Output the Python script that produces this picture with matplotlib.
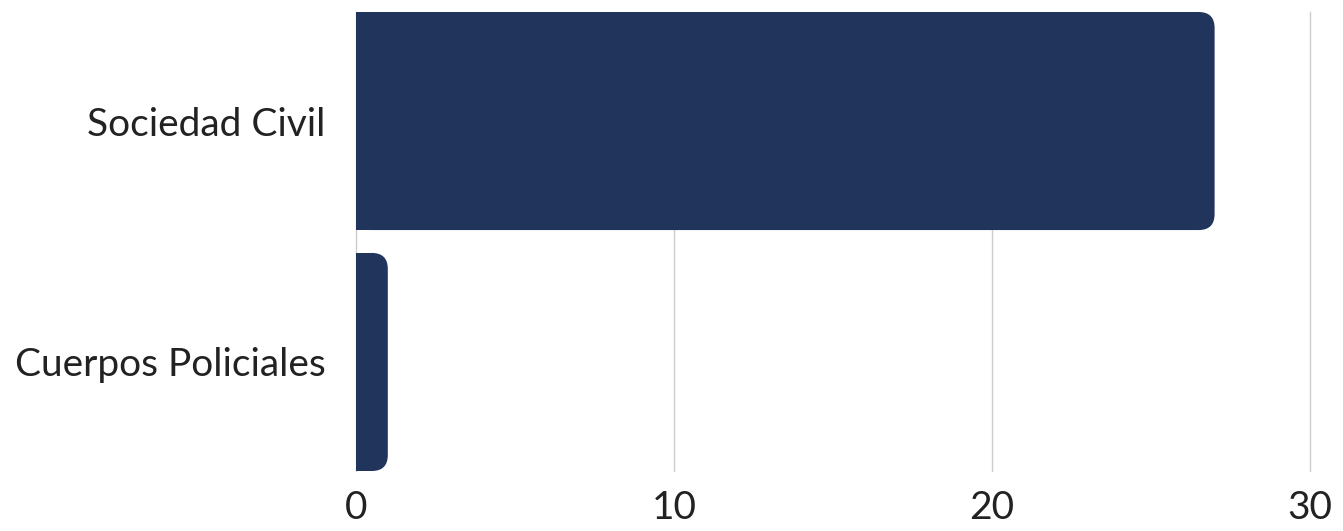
import matplotlib.pyplot as plt
from matplotlib.patches import FancyBboxPatch, Rectangle

# data
categories = ['Sociedad Civil', 'Cuerpos Policiales']
values = [27, 1]
x_ticks = [0, 10, 20, 30]

bar_color = '#21345B'
grid_color = '#cccccc'
bar_h = 0.905

plt.rcParams['font.family'] = ['Lato', 'DejaVu Sans']

fig = plt.figure(figsize=(13.43, 5.31), dpi=100)
ax = fig.add_axes([356 / 1343, 1 - 471 / 531, 954 / 1343, 459 / 531])

ax.set_xlim(0, 30)
ax.set_ylim(1 + bar_h / 2, -bar_h / 2)

# pixels per data unit, used to keep the corner radius round
px_x = ax.transData.transform((1, 0))[0] - ax.transData.transform((0, 0))[0]
px_y = abs(ax.transData.transform((0, 1))[1] - ax.transData.transform((0, 0))[1])
radius_px = 16
r = radius_px / px_x

for i, v in enumerate(values):
    y0 = i - bar_h / 2
    rounded = FancyBboxPatch((0, y0), v, bar_h,
                             boxstyle=f'round,pad=0,rounding_size={r}',
                             mutation_aspect=px_x / px_y,
                             facecolor=bar_color, edgecolor='none', zorder=3)
    ax.add_patch(rounded)
    # square off the left side
    ax.add_patch(Rectangle((0, y0), v / 2, bar_h, facecolor=bar_color,
                           edgecolor='none', zorder=3))

ax.set_yticks(range(len(categories)))
ax.set_yticklabels(categories)
ax.set_xticks(x_ticks)

for x in x_ticks:
    ax.axvline(x, color=grid_color, linewidth=1, zorder=1, clip_on=False)

for s in ax.spines.values():
    s.set_visible(False)

ax.tick_params(axis='y', length=0, pad=22, labelsize=28, labelcolor='#222222')
ax.tick_params(axis='x', length=0, pad=14, labelsize=28, labelcolor='#222222')

fig.savefig('out.png', dpi=100)
